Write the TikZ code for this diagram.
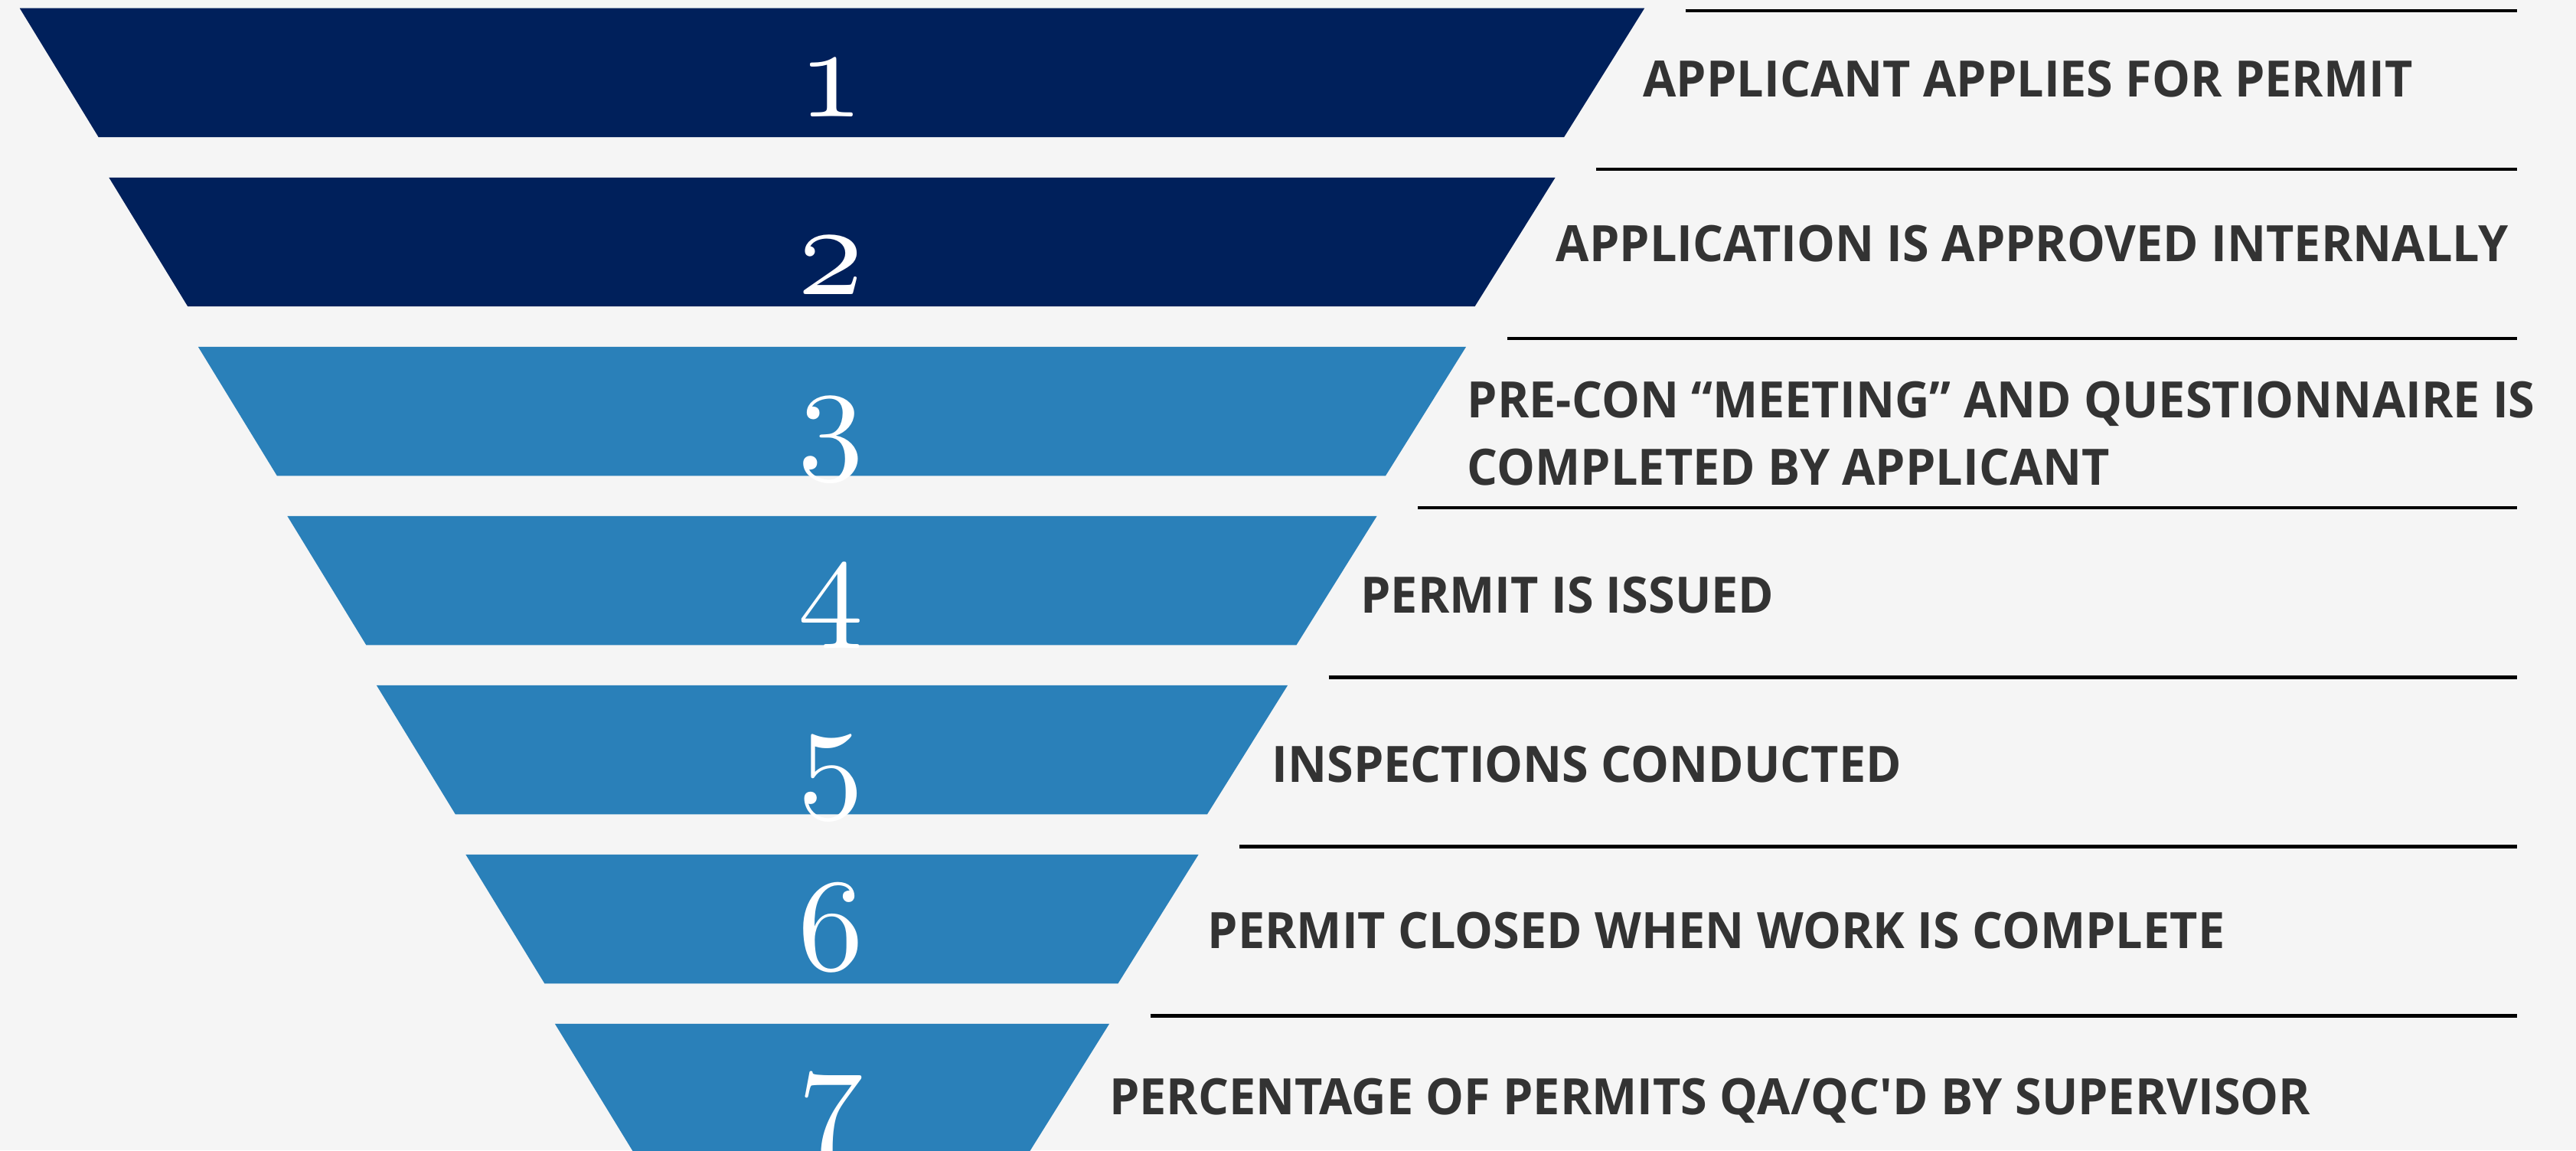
\documentclass[tikz,border=0pt]{standalone}
\usepackage{graphicx}
\usepackage{fontspec}
\setsansfont{Open Sans}[FakeStretch=0.96]
\usetikzlibrary{positioning}
\definecolor{navy}{HTML}{00205B}
\definecolor{steel}{HTML}{2A80B9}
\definecolor{ink}{HTML}{333333}
\definecolor{paper}{HTML}{F5F5F5}
\newcommand{\osfdigit}[1]{\scalebox{8}{\fontencoding{OML}\fontfamily{cmm}\fontseries{m}\fontshape{it}\fontsize{10}{10}\selectfont #1}}
\tikzstyle{stagenum}=[text=white,inner sep=0pt,anchor=base]
\tikzstyle{stagetext}=[text=ink,inner sep=0pt,anchor=base west,align=left,font=\sffamily\bfseries\fontsize{30.5}{41}\selectfont]
\tikzstyle{rule}=[line width=2.2pt,black]

\begin{document}
\begin{tikzpicture}[x=1pt,y=-1pt]
    \fill[paper] (0,0) rectangle (1568,700);
    \useasboundingbox (0,0) rectangle (1568,700);
    % funnel
    \fill[navy]  (12,5) -- (1001,5) -- (952,83.5) -- (60,83.5) -- cycle;
    \fill[navy]  (66.3,108) -- (946.7,108) -- (897.7,186.5) -- (114.3,186.5) -- cycle;
    \fill[steel] (120.6,211) -- (892.4,211) -- (843.4,289.5) -- (168.6,289.5) -- cycle;
    \fill[steel] (174.9,314) -- (838.1,314) -- (789.1,392.5) -- (222.9,392.5) -- cycle;
    \fill[steel] (229.2,417) -- (783.8,417) -- (734.8,495.5) -- (277.2,495.5) -- cycle;
    \fill[steel] (283.5,520) -- (729.5,520) -- (680.5,598.5) -- (331.5,598.5) -- cycle;
    \fill[steel] (337.8,623) -- (675.2,623) -- (626.2,701.5) -- (385.8,701.5) -- cycle;
    \node [stagenum] (n1) at (506,71) {\osfdigit{1}};
    \node [stagenum] (n2) at (506,179) {\osfdigit{2}};
    \node [stagenum] (n3) at (506,277) {\osfdigit{3}};
    \node [stagenum] (n4) at (506,379) {\osfdigit{4}};
    \node [stagenum] (n5) at (506,483) {\osfdigit{5}};
    \node [stagenum] (n6) at (506,590) {\osfdigit{6}};
    \node [stagenum] (n7) at (506,689) {\osfdigit{7}};
    % rules
    \draw[rule] (1026,6.5) -- (1532,6.5);
    \draw[rule] (971.7,103) -- (1532,103);
    \draw[rule] (917.4,206) -- (1532,206);
    \draw[rule] (863.1,309) -- (1532,309);
    \draw[rule] (808.8,412) -- (1532,412);
    \draw[rule] (754.5,515) -- (1532,515);
    \draw[rule] (700.2,618) -- (1532,618);
    % labels
    \node [stagetext] (t1) at (1000,59) {APPLICANT APPLIES FOR PERMIT};
    \node [stagetext] (t2) at (947,159) {APPLICATION IS APPROVED INTERNALLY};
    \node [stagetext] (t3) at (893,295) {PRE-CON “MEETING” AND QUESTIONNAIRE IS\\COMPLETED BY APPLICANT};
    \node [stagetext] (t4) at (828,373) {PERMIT IS ISSUED};
    \node [stagetext] (t5) at (774,476) {INSPECTIONS CONDUCTED};
    \node [stagetext] (t6) at (735,577) {PERMIT CLOSED WHEN WORK IS COMPLETE};
    \node [stagetext] (t7) at (675,678) {PERCENTAGE OF PERMITS QA/QC\textquotesingle D BY SUPERVISOR};
\end{tikzpicture}
\end{document}
